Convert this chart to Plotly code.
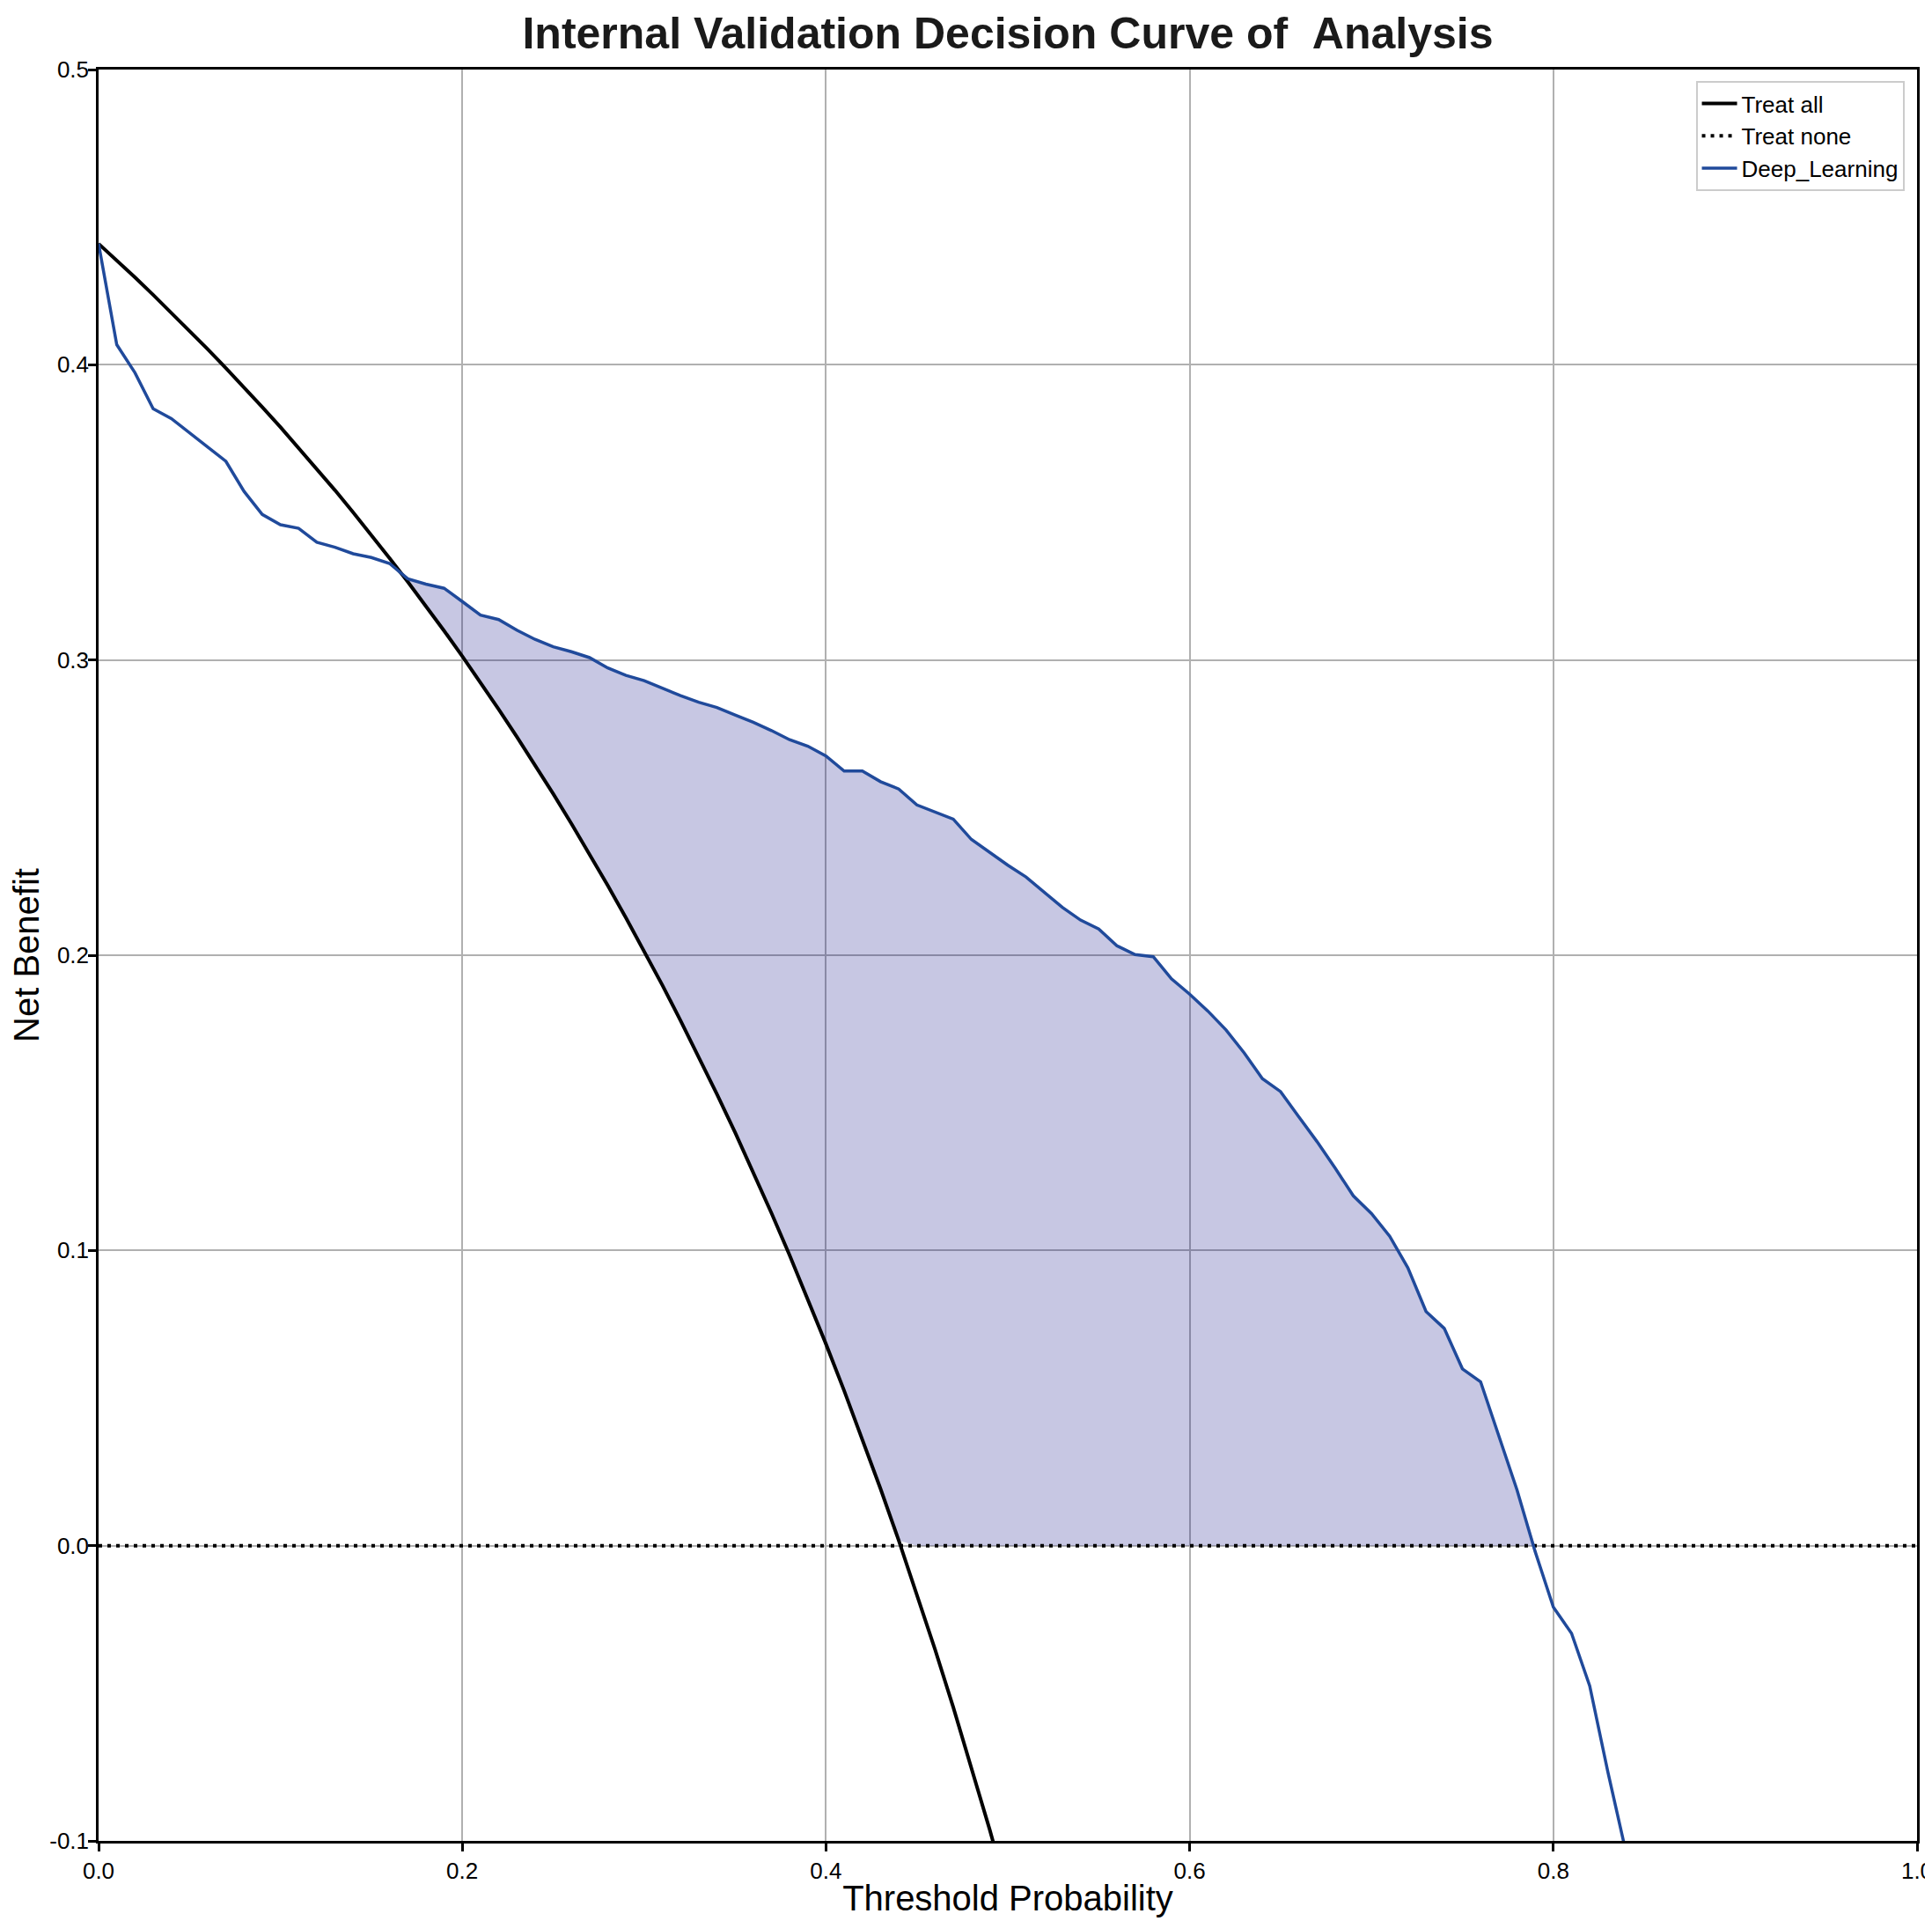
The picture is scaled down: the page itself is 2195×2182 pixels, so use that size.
"""
Decision curve (internal validation) for the deep learning model.
"""
import numpy as np
import plotly.graph_objects as go

# threshold grid (step 0.01)
thresholds = np.round(np.arange(0, 85) / 100, 2)

# net benefit
treat_all = [
    0.4410, 0.4354, 0.4296, 0.4237, 0.4177, 0.4116, 0.4053, 0.3989, 0.3924, 0.3857,
    0.3789, 0.3719, 0.3648, 0.3575, 0.3500, 0.3424, 0.3345, 0.3265, 0.3183, 0.3099,
    0.3013, 0.2924, 0.2833, 0.2740, 0.2645, 0.2547, 0.2446, 0.2342, 0.2236, 0.2127,
    0.2014, 0.1899, 0.1779, 0.1657, 0.1530, 0.1400, 0.1266, 0.1127, 0.0984, 0.0836,
    0.0683, 0.0525, 0.0362, 0.0193, 0.0018, -0.0164, -0.0352, -0.0547, -0.0750, -0.0961,
    -0.1180,
]
treat_none_x = [0.0, 1.0]
treat_none = [0.0, 0.0]
deep_learning = [
    0.4410, 0.4068, 0.3973, 0.3851, 0.3818, 0.3769, 0.3720, 0.3673, 0.3571, 0.3493,
    0.3458, 0.3446, 0.3399, 0.3382, 0.3360, 0.3347, 0.3327, 0.3275, 0.3257, 0.3243,
    0.3198, 0.3152, 0.3137, 0.3101, 0.3070, 0.3045, 0.3028, 0.3008, 0.2973, 0.2948,
    0.2930, 0.2904, 0.2879, 0.2857, 0.2839, 0.2814, 0.2789, 0.2761, 0.2730, 0.2708,
    0.2675, 0.2624, 0.2624, 0.2588, 0.2563, 0.2509, 0.2486, 0.2461, 0.2392, 0.2347,
    0.2305, 0.2265, 0.2215, 0.2162, 0.2119, 0.2089, 0.2032, 0.2002, 0.1995, 0.1920,
    0.1868, 0.1811, 0.1747, 0.1669, 0.1582, 0.1538, 0.1453, 0.1369, 0.1279, 0.1185,
    0.1125, 0.1048, 0.0941, 0.0793, 0.0736, 0.0599, 0.0555, 0.0373, 0.0189, -0.0020,
    -0.0208, -0.0297, -0.0475, -0.0767, -0.1040,
]

x_ticks = [0.0, 0.2, 0.4, 0.6, 0.8, 1.0]
x_tick_labels = ["0.0", "0.2", "0.4", "0.6", "0.8", "1.0"]
y_ticks = [-0.1, 0.0, 0.1, 0.2, 0.3, 0.4, 0.5]
y_tick_labels = ["-0.1", "0.0", "0.1", "0.2", "0.3", "0.4", "0.5"]

FONT = "Arial, 'Liberation Sans', sans-serif"
BLUE = "rgb(32,74,155)"

# shaded band: where the model beats both reference strategies
lower = [max(treat_all[i], 0.0) if i < len(treat_all) else 0.0 for i in range(len(thresholds))]
upper = [max(deep_learning[i], lower[i]) for i in range(len(thresholds))]

fig = go.Figure()
fig.add_trace(go.Scatter(x=thresholds, y=lower, mode="lines", line=dict(width=0),
                         showlegend=False, hoverinfo="skip"))
fig.add_trace(go.Scatter(x=thresholds, y=upper, mode="lines", line=dict(width=0),
                         fill="tonexty", fillcolor="rgba(0,0,128,0.22)",
                         showlegend=False, hoverinfo="skip"))

fig.add_trace(go.Scatter(x=thresholds[:len(treat_all)], y=treat_all, mode="lines",
                         name="Treat all", line=dict(color="black", width=4)))
fig.add_trace(go.Scatter(x=treat_none_x, y=treat_none, mode="lines", name="Treat none",
                         line=dict(color="black", width=4, dash="4px,6px")))
fig.add_trace(go.Scatter(x=thresholds, y=deep_learning, mode="lines", name="Deep_Learning",
                         line=dict(color=BLUE, width=3.5)))

axis_common = dict(
    showline=True, mirror=True, linecolor="black", linewidth=2.5,
    showgrid=True, gridcolor="#b0b0b0", gridwidth=2, zeroline=False,
    ticks="outside", ticklen=9, tickwidth=2.5, tickcolor="black",
    tickfont=dict(family=FONT, size=26, color="black"),
)

# page body has an 8px margin; the figure runs to the right/bottom window edge
fig.update_layout(
    width=2187, height=2174,
    margin=dict(l=104, r=17, t=71, b=91, autoexpand=False),
    paper_bgcolor="white", plot_bgcolor="white",
    title=dict(text="Internal Validation Decision Curve of \u00a0Analysis",
               x=0.5, xref="paper", xanchor="center", y=0.9945, yanchor="top",
               font=dict(family=FONT, size=50, color="#1a1a1a", weight="bold")),
    xaxis=dict(range=[0, 1], tickvals=x_ticks, ticktext=x_tick_labels,
               ticklabeloverflow="allow",
               title=dict(text="Threshold Probability", standoff=4,
                          font=dict(family=FONT, size=40, color="black")),
               **axis_common),
    yaxis=dict(range=[-0.1, 0.5], tickvals=y_ticks, ticktext=y_tick_labels,
               ticklabelstandoff=-6, **axis_common),
    legend=dict(x=0.993, y=0.9935, xanchor="right", yanchor="top",
                traceorder="normal",
                bgcolor="rgba(255,255,255,0.85)", bordercolor="#cccccc", borderwidth=2,
                font=dict(family=FONT, size=26, color="black"),
                tracegroupgap=0, itemwidth=40),
    showlegend=True,
)

# y-axis title placed by hand so it sits close to the left edge
fig.add_annotation(text="Net Benefit", textangle=-90, showarrow=False,
                   xref="paper", yref="paper", x=-0.0397, y=0.5,
                   xanchor="center", yanchor="middle",
                   font=dict(family=FONT, size=40, color="black"))

fig.write_html("out.html")
